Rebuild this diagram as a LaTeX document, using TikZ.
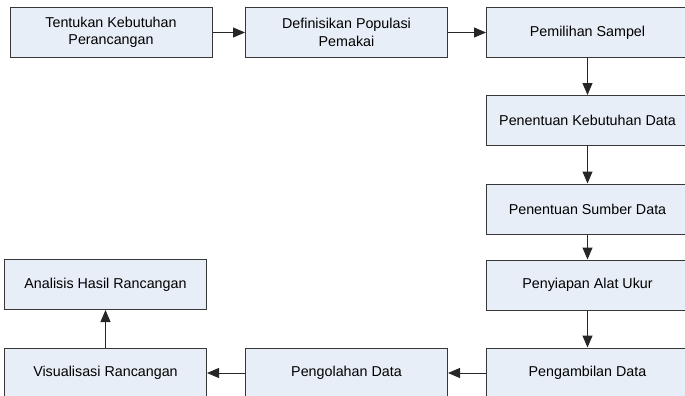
\documentclass[tikz,border=0pt]{standalone}
\usepackage{fontspec}
\setmainfont{Liberation Sans}
\usetikzlibrary{arrows.meta}
\definecolor{boxfill}{RGB}{232,238,247}
\definecolor{boxline}{RGB}{55,55,55}
\begin{document}
\begin{tikzpicture}[x=1pt,y=-1pt,
  stepbox/.style={draw=boxline,fill=boxfill,line width=1pt,minimum width=202pt,minimum height=50pt,
    inner sep=0pt,align=center,font=\fontsize{14.3}{17.5}\selectfont,anchor=center},
  flow/.style={draw=black!85,line width=1pt,-{Triangle[length=12pt,width=10pt]}}]
\useasboundingbox (0,0) rectangle (685,396);
\clip (0,0) rectangle (685,396);
\node[stepbox] (b1) at (111,32.5) {Tentukan Kebutuhan\\Perancangan};
\node[stepbox] (b2) at (346.5,32.5) {Definisikan Populasi\\Pemakai};
\node[stepbox] (b3) at (587.5,32.5) {Pemilihan Sampel};
\node[stepbox] (b4) at (587.5,120.5) {Penentuan Kebutuhan Data};
\node[stepbox] (b5) at (587.5,209) {Penentuan Sumber Data};
\node[stepbox] (b6) at (587.5,285) {Penyiapan Alat Ukur};
\node[stepbox] (b7) at (587.5,373) {Pengambilan Data};
\node[stepbox] (b8) at (346.5,373) {Pengolahan Data};
\node[stepbox] (b9) at (105.5,373) {Visualisasi Rancangan};
\node[stepbox] (b10) at (105.5,284.5) {Analisis Hasil Rancangan};
\draw[flow] (b1) -- (b2);
\draw[flow] (b2) -- (b3);
\draw[flow] (b3) -- (b4);
\draw[flow] (b4) -- (b5);
\draw[flow] (b5) -- (b6);
\draw[flow] (b6) -- (b7);
\draw[flow] (b7) -- (b8);
\draw[flow] (b8) -- (b9);
\draw[flow] (b9) -- (b10);
\end{tikzpicture}
\end{document}
